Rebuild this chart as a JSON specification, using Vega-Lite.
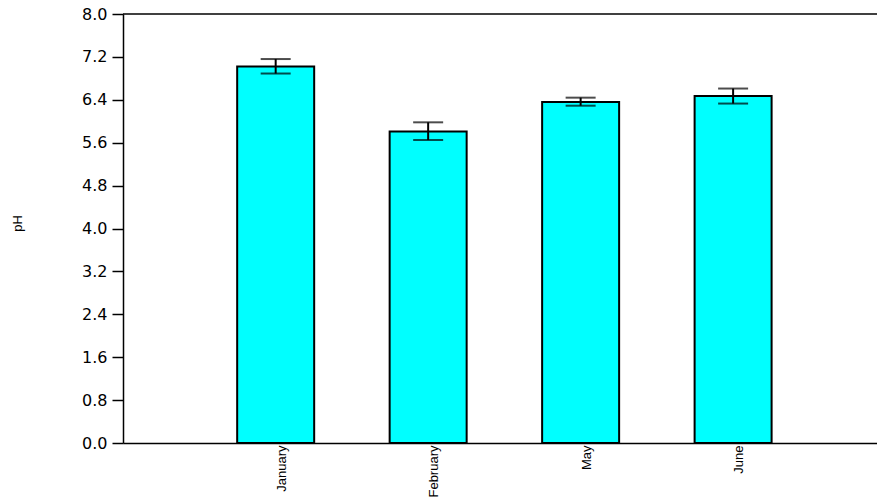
{
  "$schema": "https://vega.github.io/schema/vega-lite/v6.json",
  "autosize": {"type": "none"},
  "padding": {"left": 123, "top": 14, "right": 0, "bottom": 58},
  "width": 754,
  "height": 429,
  "background": "white",
  "config": {
    "view": {"stroke": null},
    "axis": {
      "domainColor": "black",
      "domainWidth": 1.5,
      "tickColor": "black",
      "tickWidth": 1.5,
      "labelColor": "black",
      "titleColor": "black",
      "grid": false
    }
  },
  "data": {
    "values": [
      {"month": "January", "ph": 7.02, "low": 6.89, "high": 7.16},
      {"month": "February", "ph": 5.81, "low": 5.65, "high": 5.98},
      {"month": "May", "ph": 6.36, "low": 6.29, "high": 6.44},
      {"month": "June", "ph": 6.47, "low": 6.33, "high": 6.61}
    ]
  },
  "encoding": {
    "x": {
      "field": "month",
      "type": "nominal",
      "sort": null,
      "scale": {"paddingInner": 0.495, "paddingOuter": 0.72, "align": 0.52},
      "axis": {
        "title": null,
        "labelAngle": 270,
        "labelAlign": "right",
        "labelBaseline": "middle",
        "labelOffset": 6,
        "labelPadding": 2,
        "ticks": false,
        "labelFont": "Liberation Sans",
        "labelFontSize": 13
      }
    }
  },
  "layer": [
    {
      "mark": {"type": "bar", "fill": "#00FFFF", "stroke": "black", "strokeWidth": 2},
      "encoding": {
        "y": {
          "field": "ph",
          "type": "quantitative",
          "scale": {"domain": [0, 8], "nice": false, "zero": true},
          "axis": {
            "title": "pH",
            "values": [0, 0.8, 1.6, 2.4, 3.2, 4.0, 4.8, 5.6, 6.4, 7.2, 8.0],
            "format": ".1f",
            "tickSize": 11,
            "labelPadding": 5,
            "labelFont": "DejaVu Sans",
            "labelFontSize": 16,
            "titleFont": "Liberation Sans",
            "titleFontSize": 13,
            "titleFontWeight": "normal",
            "titleAngle": 270,
            "titleAlign": "center",
            "titleBaseline": "middle",
            "titleX": -106,
            "titleY": 209
          }
        }
      }
    },
    {
      "mark": {"type": "rule", "color": "black", "strokeWidth": 2},
      "encoding": {
        "y": {"field": "low", "type": "quantitative"},
        "y2": {"field": "high"}
      }
    },
    {
      "mark": {"type": "tick", "color": "black", "size": 30, "thickness": 2, "orient": "horizontal"},
      "encoding": {"y": {"field": "low", "type": "quantitative"}}
    },
    {
      "mark": {"type": "tick", "color": "black", "size": 30, "thickness": 2, "orient": "horizontal"},
      "encoding": {"y": {"field": "high", "type": "quantitative"}}
    },
    {
      "data": {"values": [{"top": 8}]},
      "mark": {"type": "rule", "color": "black", "strokeWidth": 1.5},
      "encoding": {"y": {"field": "top", "type": "quantitative"}, "x": null}
    }
  ]
}
